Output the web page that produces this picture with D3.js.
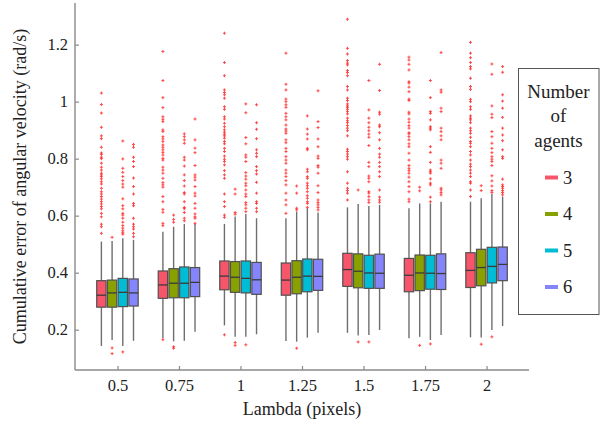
<!DOCTYPE html>
<html>
<head>
<meta charset="utf-8">
<script src="https://cdn.jsdelivr.net/npm/d3@7"></script>
<style>
  @font-face { font-family: "ChartSerif"; src: local("Liberation Serif"), local("LiberationSerif-Regular"), local("Times New Roman"); }
  html, body { margin: 0; padding: 0; background: #fff; }
  svg text { font-family: "Liberation Serif", "ChartSerif", "Times New Roman", Tinos !important; }
</style>
</head>
<body>
<svg id="chart" width="608" height="426"></svg>
<script>
// ---------------- data ----------------
const categories = ["0.5", "0.75", "1", "1.25", "1.5", "1.75", "2"];
const seriesNames = ["3", "4", "5", "6"];
const yTicks = [0.2, 0.4, 0.6, 0.8, 1, 1.2];

// one row per series (3, 4, 5, 6 agents), one column per lambda
const upperQuartile = [
  [0.372, 0.406, 0.441, 0.434, 0.468, 0.450, 0.470],
  [0.374, 0.414, 0.439, 0.442, 0.466, 0.462, 0.482],
  [0.380, 0.420, 0.441, 0.448, 0.461, 0.461, 0.489],
  [0.378, 0.418, 0.436, 0.447, 0.465, 0.466, 0.490]
];
const medianValues = [
  [0.321, 0.357, 0.388, 0.374, 0.411, 0.391, 0.408],
  [0.329, 0.363, 0.384, 0.384, 0.405, 0.399, 0.418],
  [0.331, 0.363, 0.380, 0.388, 0.399, 0.398, 0.422],
  [0.329, 0.366, 0.375, 0.387, 0.398, 0.397, 0.429]
];
const lowerQuartile = [
  [0.279, 0.310, 0.340, 0.321, 0.352, 0.333, 0.348],
  [0.279, 0.312, 0.331, 0.326, 0.347, 0.337, 0.354],
  [0.281, 0.312, 0.329, 0.333, 0.345, 0.342, 0.364],
  [0.283, 0.316, 0.324, 0.338, 0.345, 0.341, 0.372]
];
const whiskerHigh = [
  [0.509, 0.544, 0.571, 0.591, 0.629, 0.626, 0.649],
  [0.511, 0.561, 0.597, 0.614, 0.641, 0.643, 0.661],
  [0.521, 0.571, 0.606, 0.626, 0.634, 0.643, 0.676],
  [0.515, 0.571, 0.591, 0.611, 0.638, 0.649, 0.667]
];
const whiskerLow = [
  [0.143, 0.170, 0.215, 0.160, 0.189, 0.170, 0.173],
  [0.164, 0.159, 0.175, 0.158, 0.180, 0.175, 0.173],
  [0.143, 0.161, 0.175, 0.172, 0.181, 0.164, 0.199],
  [0.161, 0.193, 0.184, 0.189, 0.199, 0.181, 0.213]
];

const outliers3 = [
  [1.03,0.99,0.96,0.91,0.88,0.87,0.84,0.82,0.815,0.805,0.80,0.784,0.77,0.76,0.749,0.743,0.737,0.729,0.719,0.711,0.696,0.684,0.676,0.667,0.658,0.649,0.641,0.632,0.624,0.608,0.596,0.57,0.561,0.538],
  [1.176,1.074,1.014,0.979,0.947,0.938,0.93,0.901,0.895,0.877,0.869,0.86,0.848,0.84,0.831,0.822,0.813,0.801,0.795,0.77,0.76,0.749,0.731,0.716,0.708,0.70,0.667,0.649,0.622,0.612,0.573,0.565,0.165],
  [1.24,1.137,1.091,1.041,1.032,1.024,1.012,0.982,0.973,0.947,0.939,0.924,0.912,0.901,0.893,0.886,0.88,0.872,0.86,0.852,0.836,0.825,0.809,0.798,0.79,0.778,0.758,0.743,0.731,0.676,0.649,0.632,0.602,0.594,0.182],
  [1.17,1.061,1.041,1.009,1.0,0.989,0.98,0.959,0.947,0.936,0.918,0.904,0.897,0.889,0.866,0.856,0.836,0.825,0.807,0.795,0.784,0.76,0.749,0.737,0.723,0.708,0.679,0.655,0.638,0.608],
  [1.289,1.187,1.167,1.144,1.135,1.129,1.109,1.102,1.091,1.053,1.041,1.012,1.004,0.992,0.985,0.98,0.973,0.965,0.957,0.942,0.933,0.926,0.916,0.907,0.898,0.88,0.833,0.825,0.816,0.807,0.798,0.754,0.714,0.696,0.688,0.679,0.655],
  [1.156,1.146,1.131,1.111,1.07,1.065,1.051,1.035,1.009,1.004,0.963,0.957,0.939,0.928,0.916,0.907,0.891,0.887,0.877,0.866,0.852,0.842,0.819,0.795,0.776,0.766,0.758,0.749,0.735,0.719,0.702,0.684,0.658,0.649],
  [1.208,1.17,1.154,1.137,1.123,1.115,1.082,1.053,1.043,1.008,1.0,0.982,0.973,0.95,0.942,0.936,0.926,0.907,0.898,0.889,0.875,0.86,0.854,0.842,0.825,0.813,0.795,0.781,0.772,0.76,0.749,0.737,0.719,0.714,0.69,0.667]
];
const outliers4 = [
  [0.524,0.136,0.116],
  [0.602,0.587,0.577,0.14,0.135],
  [0.693,0.676,0.611,0.605,0.155,0.145],
  [0.704,0.679,0.626,0.62,0.135],
  [0.69,0.157],
  [0.70,0.687,0.145],
  [0.705,0.688,0.149]
];
const outliers5 = [
  [0.862,0.799,0.766,0.752,0.737,0.723,0.711,0.70,0.659,0.635,0.624,0.608,0.602,0.591,0.577,0.565,0.556,0.547,0.54,0.535,0.122],
  [0.887,0.877,0.866,0.854,0.805,0.795,0.774,0.743,0.723,0.704,0.681,0.676,0.649,0.629,0.624,0.611,0.591,0.582],
  [0.992,0.961,0.874,0.852,0.813,0.805,0.79,0.751,0.739,0.728,0.714,0.705,0.69,0.676,0.667,0.646,0.638,0.626,0.614,0.147],
  [0.95,0.904,0.886,0.869,0.836,0.831,0.763,0.754,0.737,0.731,0.714,0.705,0.696,0.684,0.67,0.661,0.649,0.643,0.629],
  [1.074,0.971,0.942,0.926,0.91,0.898,0.886,0.875,0.846,0.787,0.772,0.739,0.731,0.719,0.684,0.679,0.667,0.655,0.646,0.157],
  [1.074,1.014,0.965,0.959,0.936,0.912,0.907,0.901,0.842,0.822,0.787,0.76,0.754,0.749,0.729,0.714,0.708,0.665,0.649,0.15],
  [1.132,1.096,0.985,0.956,0.944,0.895,0.877,0.854,0.836,0.821,0.807,0.798,0.79,0.776,0.74,0.722,0.704,0.688,0.681,0.175]
];
const outliers6 = [
  [0.85,0.84,0.805,0.79,0.772,0.732,0.702,0.676,0.643,0.635,0.591,0.57,0.561,0.553,0.538,0.526],
  [0.939,0.866,0.837,0.821,0.776,0.743,0.735,0.725,0.702,0.679,0.669,0.643,0.626,0.606,0.596,0.591,0.573],
  [0.989,0.926,0.903,0.87,0.831,0.819,0.807,0.772,0.758,0.746,0.717,0.679,0.649,0.643,0.626,0.614],
  [1.038,0.93,0.909,0.869,0.842,0.809,0.801,0.776,0.77,0.749,0.705,0.681,0.655,0.646,0.638,0.629,0.62],
  [1.131,1.039,0.963,0.956,0.918,0.912,0.891,0.866,0.836,0.816,0.805,0.787,0.772,0.754,0.737,0.69,0.665,0.655,0.647],
  [1.172,1.041,1.033,0.977,0.965,0.907,0.895,0.88,0.866,0.795,0.784,0.766,0.696,0.69,0.681,0.673],
  [1.123,1.103,1.024,1.002,0.977,0.945,0.907,0.883,0.863,0.831,0.807,0.801,0.728,0.708,0.702,0.696,0.688,0.681,0.673]
];
const outlierSets = [outliers3, outliers4, outliers5, outliers6];

// ---------------- style ----------------
const seriesColors = ["#f7566a", "#88a000", "#00bcd4", "#8585fb"];
const axisColor = "#8a8a8a";
const serifFamily = "Liberation Serif";

// ---------------- layout ----------------
const svg = d3.select("#chart").attr("font-family", serifFamily);
const mLeft = 75, mRight = 529, mTop = 3, mBottom = 370;

const x = d3.scalePoint().domain(categories).range([mLeft, mRight]).padding(0.69);
const y = d3.scaleLinear().domain([0.0586, 1.346]).range([mBottom, mTop]);

const step = x.step();
const boxW = 0.152 * step;
const offsets = seriesNames.map((s, j) => (j - 1.5) * 0.174 * step);

// ---------------- axes ----------------
const xAxis = svg.append("g").attr("transform", `translate(0,${mBottom})`)
  .call(d3.axisBottom(x).tickSizeInner(-4).tickSizeOuter(0).tickPadding(9));
const yAxis = svg.append("g").attr("transform", `translate(${mLeft},0)`)
  .call(d3.axisLeft(y).tickValues(yTicks).tickFormat(d3.format("~g")).tickSizeInner(-4).tickSizeOuter(0).tickPadding(7));

[xAxis, yAxis].forEach(g => {
  g.attr("font-family", serifFamily).attr("font-size", 16.5);
  g.select(".domain").attr("stroke", axisColor).attr("stroke-width", 1.4);
  g.selectAll(".tick line").attr("stroke", axisColor).attr("stroke-width", 1.2);
  g.selectAll(".tick text").attr("fill", "#222").attr("font-family", serifFamily);
});
yAxis.select(".domain").attr("d", `M0,${mTop}V${mBottom}`);
xAxis.select(".domain").attr("d", `M${mLeft},0H${mRight}`);

// axis titles
svg.append("text")
  .attr("x", (mLeft + mRight) / 2).attr("y", 415)
  .attr("text-anchor", "middle").attr("fill", "#222")
  .attr("font-family", serifFamily).attr("font-size", 18)
  .text("Lambda (pixels)");
svg.append("text")
  .attr("transform", `translate(26,${(mTop + mBottom) / 2}) rotate(-90)`)
  .attr("text-anchor", "middle").attr("fill", "#222")
  .attr("font-family", serifFamily).attr("font-size", 18)
  .text("Cumulative error of angular velocity (rad/s)");

// ---------------- boxes ----------------
const plot = svg.append("g");
seriesNames.forEach((s, j) => {
  const g = plot.append("g");
  categories.forEach((c, i) => {
    const cx = x(c) + offsets[j];
    g.append("line").attr("x1", cx).attr("x2", cx)
      .attr("y1", y(whiskerHigh[j][i])).attr("y2", y(upperQuartile[j][i]))
      .attr("stroke", "#6e6e6e").attr("stroke-width", 1.4);
    g.append("line").attr("x1", cx).attr("x2", cx)
      .attr("y1", y(lowerQuartile[j][i])).attr("y2", y(whiskerLow[j][i]))
      .attr("stroke", "#6e6e6e").attr("stroke-width", 1.4);
    g.append("rect")
      .attr("x", cx - boxW / 2).attr("width", boxW)
      .attr("y", y(upperQuartile[j][i]))
      .attr("height", y(lowerQuartile[j][i]) - y(upperQuartile[j][i]))
      .attr("fill", seriesColors[j]).attr("stroke", "#505050").attr("stroke-width", 1.2);
    g.append("line")
      .attr("x1", cx - boxW / 2).attr("x2", cx + boxW / 2)
      .attr("y1", y(medianValues[j][i])).attr("y2", y(medianValues[j][i]))
      .attr("stroke", "#3a3a3a").attr("stroke-width", 1.3);
    outlierSets[j][i].forEach(v => {
      g.append("path")
        .attr("d", `M${cx - 1.5},${y(v)}h3M${cx},${y(v) - 1.5}v3`)
        .attr("stroke", "#ff2a2a").attr("stroke-width", 1).attr("opacity", 0.85);
    });
  });
});

// ---------------- legend ----------------
const lg = svg.append("g");
lg.append("rect").attr("x", 518.5).attr("y", 68.5).attr("width", 80.5).attr("height", 246)
  .attr("fill", "#fff").attr("stroke", "#555").attr("stroke-width", 1);
["Number", "of", "agents"].forEach((t, k) => {
  lg.append("text").attr("x", 558.5).attr("y", 98 + k * 24.3)
    .attr("text-anchor", "middle").attr("fill", "#222")
    .attr("font-family", serifFamily).attr("font-size", 19).text(t);
});
seriesNames.forEach((s, j) => {
  const cy = 177.5 + j * 36.5;
  lg.append("line").attr("x1", 545).attr("x2", 558).attr("y1", cy).attr("y2", cy)
    .attr("stroke", seriesColors[j]).attr("stroke-width", 4);
  lg.append("text").attr("x", 563).attr("y", cy + 6)
    .attr("fill", "#222").attr("font-family", serifFamily).attr("font-size", 18.5).text(s);
});
</script>
</body>
</html>
